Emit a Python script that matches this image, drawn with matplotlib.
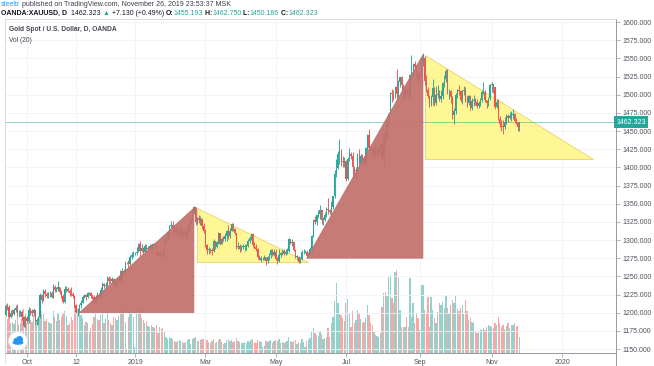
import numpy as np
import matplotlib
matplotlib.use("Agg")
import matplotlib.pyplot as plt
from matplotlib.patches import Polygon, Circle, Ellipse
from matplotlib.lines import Line2D

FAM = ["Liberation Sans", "DejaVu Sans"]
plt.rcParams["font.family"] = FAM

# ---------------- data (daily OANDA:XAUUSD, first bar 2018-09-12) ----------------
start_date = "2018-09-12"

opens = [
    1197,1209,1208,1194,1200,1198,1203,1207,1199,1199,1201,1194,1182,
    1192,1188,1204,1202,1199,1203,1189,1189,1194,1224,1218,1230,1226,1223,1227,1227,1222,1236,1231,1232,1235,1229,1223,
    1215,1233,1233,1230,1227,1226,1223,1210,1201,1201,1210,1214,1222,1224,1221,1227,1227,1223,1222,1214,1221,1224,
    1222,1231,1239,1237,1238,1248,1244,1243,1246,1241,1238,1245,1248,1243,1258,1256,1269,1268,1267,1276,1280,
    1282,1282,1284,1294,1285,1289,1284,1292,1287,1289,1292,1288,1294,1292,1282,1278,1283,1281,1280,1297,1302,1311,1319,
    1321,1317,1311,1315,1307,1309,1314,1307,1311,1306,1313,1322,1327,1340,1345,1325,1330,1328,1329,1319,
    1313,1293,1286,1287,1286,1285,1298,1290,1297,1309,1295,1302,1301,1306,1312,1305,1313,1322,1315,1309,1290,
    1292,1287,1291,1291,1291,1292,1298,1303,1308,1293,1291,1288,1276,1273,1275,1275,1276,1271,1276,1279,1286,1280,
    1284,1274,1271,1279,1282,1285,1281,1284,1285,1301,1296,1297,1286,1277,1277,1270,1274,1283,1284,1284,1278,1280,1287,
    1305,1327,1325,1334,1336,1341,1327,1327,1334,1342,1341,1339,1346,1360,1391,1399,1419,1423,1409,1407,
    1409,1384,1411,1418,1416,1400,1395,1397,1419,1404,1415,1413,1405,1426,1445,1426,1424,1417,1425,1414,1419,1426,1431,
    1413,1445,1440,1465,1474,1502,1501,1497,1510,1501,1517,1524,1513,1496,1507,1502,1497,1527,1527,1542,1538,1528,
    1520,1529,1547,1551,1519,1507,1498,1486,1497,1509,1488,1499,1501,1494,1498,1516,1522,1532,1504,1505,1497,
    1472,1478,1500,1506,1505,1492,1505,1506,1494,1488,1498,1482,1491,1493,1490,1484,1488,1492,1504,1504,1492,1488,1496,
    1513,1514,1510,1483,1490,1467,1459,1457,1456,1463,1471,1468,1471,1472,1474,1464,1462,1455.193,
]
highs = [
    1212,1214,1210,1203,1205,1206,1211,1212,1203,1204,1204,1195,1196,
    1196,1208,1207,1205,1206,1204,1193,1196,1227,1226,1233,1233,1229,1229,1230,1230,1239,1238,1235,1243,1236,1231,1226,
    1237,1237,1235,1232,1236,1228,1224,1212,1206,1212,1217,1225,1226,1226,1229,1229,1228,1226,1224,1224,1228,1227,
    1236,1242,1241,1242,1250,1250,1249,1249,1248,1243,1248,1251,1259,1262,1260,1271,1270,1272,1280,1283,1285,
    1284,1291,1296,1298,1294,1290,1294,1295,1292,1294,1294,1296,1297,1293,1284,1285,1285,1285,1303,1305,1313,1320,1326,
    1326,1319,1318,1316,1312,1318,1315,1314,1315,1316,1324,1330,1342,1347,1346,1332,1334,1333,1330,1323,
    1315,1295,1290,1289,1289,1301,1299,1299,1311,1310,1304,1305,1309,1314,1320,1316,1324,1323,1317,1310,1297,
    1295,1293,1295,1294,1295,1301,1306,1310,1309,1297,1294,1289,1280,1278,1277,1279,1277,1278,1282,1288,1287,1287,
    1287,1277,1288,1284,1287,1287,1287,1289,1303,1302,1301,1298,1288,1279,1278,1276,1286,1287,1286,1286,1283,1290,1307,
    1329,1333,1336,1341,1348,1342,1331,1338,1346,1358,1343,1354,1361,1397,1411,1423,1439,1425,1416,1414,
    1410,1414,1427,1421,1421,1402,1400,1420,1425,1418,1418,1415,1428,1446,1453,1430,1425,1429,1434,1426,1428,1433,1434,
    1446,1449,1468,1475,1504,1508,1507,1512,1535,1520,1525,1526,1514,1510,1509,1506,1528,1555,1544,1547,1541,1533,
    1531,1550,1557,1553,1527,1511,1500,1499,1522,1510,1512,1513,1507,1506,1518,1527,1535,1536,1508,1507,1498,
    1481,1502,1508,1513,1506,1507,1512,1510,1500,1499,1499,1495,1500,1496,1494,1491,1495,1506,1517,1507,1493,1497,1514,
    1517,1515,1511,1494,1494,1471,1465,1465,1469,1474,1474,1476,1477,1480,1475,1468,1463,1462.750,
]
lows = [
    1195,1203,1192,1193,1196,1197,1201,1195,1194,1195,1190,1180,1180,
    1186,1186,1197,1195,1196,1184,1183,1184,1192,1213,1216,1222,1220,1220,1222,1220,1220,1228,1228,1230,1226,1220,1213,
    1214,1229,1228,1223,1223,1220,1206,1199,1196,1199,1207,1213,1220,1218,1220,1225,1220,1219,1211,1212,1219,1217,
    1221,1229,1234,1232,1236,1240,1241,1241,1236,1234,1236,1243,1241,1242,1252,1256,1267,1263,1266,1274,1277,
    1280,1280,1283,1277,1284,1279,1282,1284,1285,1286,1285,1287,1290,1280,1276,1277,1278,1276,1279,1296,1300,1306,1316,
    1310,1308,1309,1305,1303,1307,1302,1306,1304,1302,1311,1320,1326,1336,1321,1322,1324,1320,1315,1310,
    1290,1281,1281,1282,1280,1284,1287,1289,1295,1293,1294,1298,1299,1298,1302,1303,1312,1313,1307,1288,1288,
    1284,1285,1287,1285,1286,1290,1296,1300,1290,1288,1285,1274,1272,1270,1273,1272,1266,1269,1273,1275,1278,1278,
    1272,1267,1270,1276,1279,1279,1279,1281,1284,1294,1292,1285,1275,1273,1269,1269,1272,1281,1282,1275,1277,1279,1286,
    1304,1322,1320,1330,1329,1322,1320,1326,1332,1336,1336,1335,1342,1358,1387,1398,1405,1402,1400,1401,
    1381,1382,1409,1411,1386,1390,1385,1392,1401,1402,1409,1400,1403,1422,1423,1418,1412,1415,1411,1413,1417,1424,1410,
    1400,1430,1438,1455,1473,1490,1493,1496,1480,1495,1511,1505,1492,1495,1497,1492,1492,1520,1525,1535,1524,1516,
    1518,1525,1540,1513,1503,1495,1483,1484,1486,1485,1486,1496,1491,1490,1494,1511,1517,1501,1494,1488,1466,
    1459,1474,1496,1499,1490,1487,1500,1490,1483,1486,1479,1479,1485,1486,1481,1481,1485,1490,1501,1490,1482,1484,1492,
    1504,1502,1480,1481,1465,1456,1450,1446,1453,1460,1463,1466,1464,1466,1461,1459,1450,1450.186,
]
closes = [
    1209,1208,1194,1200,1198,1203,1207,1199,1199,1201,1194,1182,1192,
    1188,1204,1202,1199,1203,1189,1189,1194,1224,1218,1230,1226,1223,1227,1227,1222,1236,1231,1232,1235,1229,1223,1215,
    1233,1233,1230,1227,1226,1223,1210,1201,1201,1210,1214,1222,1224,1221,1227,1227,1223,1222,1214,1221,1224,1222,
    1231,1239,1237,1238,1248,1244,1243,1246,1241,1238,1245,1248,1243,1258,1256,1269,1268,1267,1276,1280,1282,
    1282,1284,1294,1285,1289,1284,1292,1287,1289,1292,1288,1294,1292,1282,1278,1283,1281,1280,1297,1302,1311,1319,1321,
    1317,1311,1315,1307,1309,1314,1307,1311,1306,1313,1322,1327,1340,1345,1325,1330,1328,1329,1319,1313,
    1293,1286,1287,1286,1285,1298,1290,1297,1309,1295,1302,1301,1306,1312,1305,1313,1322,1315,1309,1290,1292,
    1287,1291,1291,1291,1292,1298,1303,1308,1293,1291,1288,1276,1273,1275,1275,1276,1271,1276,1279,1286,1280,1284,
    1274,1271,1279,1282,1285,1281,1284,1285,1301,1296,1297,1286,1277,1277,1270,1274,1283,1284,1284,1278,1280,1287,1305,
    1327,1325,1334,1336,1341,1327,1327,1334,1342,1341,1339,1346,1360,1391,1399,1419,1423,1409,1407,1409,
    1384,1411,1418,1416,1400,1395,1397,1419,1404,1415,1413,1405,1426,1445,1426,1424,1417,1425,1414,1419,1426,1431,1413,
    1445,1440,1465,1474,1502,1501,1497,1510,1501,1517,1524,1513,1496,1507,1502,1497,1527,1527,1542,1538,1528,1520,
    1529,1547,1551,1519,1507,1498,1486,1497,1509,1488,1499,1501,1494,1498,1516,1522,1532,1504,1505,1497,1472,
    1478,1500,1506,1505,1492,1505,1506,1494,1488,1498,1482,1491,1493,1490,1484,1488,1492,1504,1504,1492,1488,1496,1513,
    1514,1510,1483,1490,1467,1459,1457,1456,1463,1471,1468,1471,1472,1474,1464,1462,1455,1462.323,
]
volumes = [
    36,34,40,30,31,29,33,38,28,30,35,44,40,
    30,42,33,31,38,30,33,36,45,42,40,32,34,31,30,29,42,36,32,40,33,36,40,
    42,37,28,30,36,33,43,42,44,40,38,35,28,31,30,22,25,29,36,40,34,33,
    38,42,30,34,41,33,30,28,36,35,33,37,42,44,40,31,3,36,42,43,36,
    6,42,43,44,35,33,30,32,27,26,28,26,25,28,20,26,24,25,22,16,14,16,15,
    14,12,11,12,13,12,11,10,11,13,14,9,14,15,16,12,12,13,14,14,
    16,13,11,10,12,14,10,11,13,14,11,9,10,13,14,12,13,11,12,15,12,
    11,10,10,11,10,12,11,13,14,11,10,13,12,11,6,7,12,11,12,13,10,12,
    13,12,14,10,11,10,11,12,16,12,11,12,13,9,11,10,14,11,6,12,13,15,22,
    25,20,18,17,22,19,14,15,16,25,16,30,36,52,70,50,40,38,35,32,
    50,54,40,26,42,30,33,43,40,34,30,31,35,48,38,30,28,21,18,17,16,20,46,
    60,61,58,76,78,55,50,81,83,75,43,26,26,26,36,26,75,36,50,30,40,35,
    23,68,68,43,40,56,26,56,43,35,30,41,50,48,51,45,58,45,40,48,53,
    50,58,44,42,45,48,40,53,42,33,35,31,30,22,20,21,23,24,25,23,26,28,27,
    26,25,30,28,36,30,26,28,24,27,30,25,28,28,30,26,27,16,
]

tick_dates = ["2018-10-01", "2018-11-12", "2019-01-01", "2019-03-01", "2019-05-01",
              "2019-07-01", "2019-09-02", "2019-11-01", "2020-01-01"]
tick_labels = ["Oct", "12", "2019", "Mar", "May", "Jul", "Sep", "Nov", "2020"]
price_ticks = list(range(1150, 1601, 25))
last_price = 1462.323

# drawn triangles: (corner date, price) -> right-angle triangles
red_tri_1 = [("2018-11-14", 1200), ("2019-02-20", 1344), ("2019-02-20", 1200)]
yel_tri_1 = [("2019-02-22", 1344), ("2019-02-22", 1270), ("2019-05-29", 1270)]
red_tri_2 = [("2019-05-28", 1275), ("2019-09-04", 1555), ("2019-09-04", 1275)]
yel_tri_2 = [("2019-09-05", 1555), ("2019-09-05", 1411), ("2020-01-28", 1411)]

# ---------------- figure ----------------
W, H = 654, 366
fig = plt.figure(figsize=(W / 100, H / 100), dpi=100)
fig.patch.set_facecolor("white")

def fx(px):
    return px / W

def fy(py):
    return 1 - py / H

L, R, T, B = 5, 616, 19, 353
rect = [fx(L), fy(B), fx(R) - fx(L), fy(T) - fy(B)]
axv = fig.add_axes(rect)          # volume pane (below)
ax = fig.add_axes(rect)           # price pane (above)
ax.patch.set_visible(False)

o = np.array(opens, float)
h = np.array(highs, float)
l = np.array(lows, float)
c = np.array(closes, float)
v = np.array(volumes, float)
n = len(c)
idx = np.arange(n)

def bidx(d):
    return np.busday_count(start_date, d)

x_left = bidx("2018-10-01") - 13.45
x_right = bidx("2018-10-01") + 360.0

UP, DN = "#26a69a", "#ef5350"
up = c >= o
cols = np.where(up, UP, DN)

# volume
axv.bar(idx, v, width=0.8, color=cols, alpha=0.5, linewidth=0)
axv.set_xlim(x_left, x_right)
axv.set_ylim(0, B - T)
axv.axis("off")

# grid
ticks_idx = [bidx(d) for d in tick_dates]
for t in ticks_idx:
    ax.axvline(t, color="#f0f3fa", lw=0.6, zorder=0)
for p in price_ticks:
    ax.axhline(p, color="#f0f3fa", lw=0.6, zorder=0)

# yellow triangles (below candles)
def tri(pts, **kw):
    xy = [(bidx(d), p) for d, p in pts]
    ax.add_patch(Polygon(xy, closed=True, **kw))

tri(yel_tri_1, facecolor="#fff68a", edgecolor="#e6cf63", lw=0.6, alpha=0.9, zorder=1)
tri(yel_tri_2, facecolor="#fff68a", edgecolor="#e6cf63", lw=0.6, alpha=0.9, zorder=1)

# candles
ax.vlines(idx, l, h, colors=cols, lw=0.65, zorder=3)
body_lo = np.minimum(o, c)
body_h = np.maximum(np.abs(c - o), 0.5)
ax.bar(idx, body_h, bottom=body_lo, width=0.75, color=cols, linewidth=0, zorder=3)

# red triangles (above candles)
tri(red_tri_1, facecolor="#c3716d", edgecolor="#b86a66", lw=0.5, alpha=0.93, zorder=4)
tri(red_tri_2, facecolor="#c3716d", edgecolor="#b86a66", lw=0.5, alpha=0.93, zorder=4)

# last price line
ax.axhline(last_price, color="#26a69a", lw=0.5, alpha=0.7, zorder=2)

ax.set_xlim(x_left, x_right)
ax.set_ylim(1600 - 331 / 0.7267, 1600 + 3 / 0.7267)

ax.yaxis.tick_right()
ax.set_yticks(price_ticks)
ax.set_yticklabels([f"{p:.3f}" for p in price_ticks])
ax.set_xticks(ticks_idx)
ax.set_xticklabels(tick_labels)
ax.tick_params(axis="y", length=3, width=0.5, color="#9598a1", labelsize=5,
               labelcolor="#50535e", pad=2)
ax.tick_params(axis="x", length=3, width=0.5, color="#9598a1", labelsize=5,
               labelcolor="#50535e", pad=1.5)

for s in ["left", "top"]:
    ax.spines[s].set_color("#d6d8de")
    ax.spines[s].set_linewidth(0.6)
for s in ["right", "bottom"]:
    ax.spines[s].set_color("#9598a1")
    ax.spines[s].set_linewidth(0.7)

# extension of the price-scale border to the bottom
fig.add_artist(Line2D([fx(R), fx(R)], [fy(B), 0], color="#9598a1", lw=0.7))
fig.add_artist(Line2D([fx(L), fx(L)], [fy(B), fy(363)], color="#d6d8de", lw=0.6))

# last price label
ax.text(1.0, last_price, f"{last_price:.3f}", transform=ax.get_yaxis_transform(),
        ha="left", va="center", fontsize=5, color="white", zorder=10,
        bbox=dict(boxstyle="square,pad=0.35", fc="#26a69a", ec="none"), clip_on=False)

# legends inside chart
fig.text(fx(9), fy(29.5), "Gold Spot / U.S. Dollar, D, OANDA", fontsize=4.8,
         color="#434651", fontweight="bold", va="center", ha="left")
fig.text(fx(9), fy(40), "Vol (20)", fontsize=4.8, color="#434651", va="center", ha="left")

# header lines (chained pieces)
def chain(parts, x, y, size):
    first = parts[0]
    t = fig.text(fx(x), fy(y), first[0], color=first[1], fontweight=first[2],
                 fontsize=size, va="center", ha="left")
    for s, col, wt in parts[1:]:
        t = ax.annotate(s, xy=(1, 0.5), xycoords=t, va="center", ha="left",
                        color=col, fontweight=wt, fontsize=size, annotation_clip=False)
    return t

DK = "#131722"
TL = "#26a69a"
chain([("steeltr", "#2196f3", "normal"),
       (" published on TradingView.com, November 26, 2019 23:53:37 MSK", "#3a3d47", "normal")],
      1, 4.5, 5)
chain([("OANDA:XAUUSD, D", DK, "bold"),
       ("  1462.323 ", DK, "normal"),
       ("\u25b2", TL, "normal"),
       (" +7.130 (+0.49%) ", DK, "normal"),
       ("O:", DK, "bold"), ("1455.193", TL, "normal"),
       (" H:", DK, "bold"), ("1462.750", TL, "normal"),
       (" L:", DK, "bold"), ("1450.186", TL, "normal"),
       (" C:", DK, "bold"), ("1462.323", TL, "normal")],
      1, 13.5, 5)

# TradingView logo bubble
lax = fig.add_axes([fx(8), fy(351), fx(28) - fx(8), fy(331) - fy(351)])
lax.set_xlim(0, 1)
lax.set_ylim(0, 1)
lax.axis("off")
lax.add_patch(Circle((0.5, 0.5), 0.47, fc="white", ec="#e0e3eb", lw=0.6))
lax.add_patch(Ellipse((0.5, 0.42), 0.55, 0.22, fc="#2196f3", ec="none"))
lax.add_patch(Circle((0.42, 0.52), 0.14, fc="#2196f3", ec="none"))
lax.add_patch(Circle((0.58, 0.58), 0.17, fc="#2196f3", ec="none"))

fig.savefig("out.png", dpi=100, facecolor="white")
